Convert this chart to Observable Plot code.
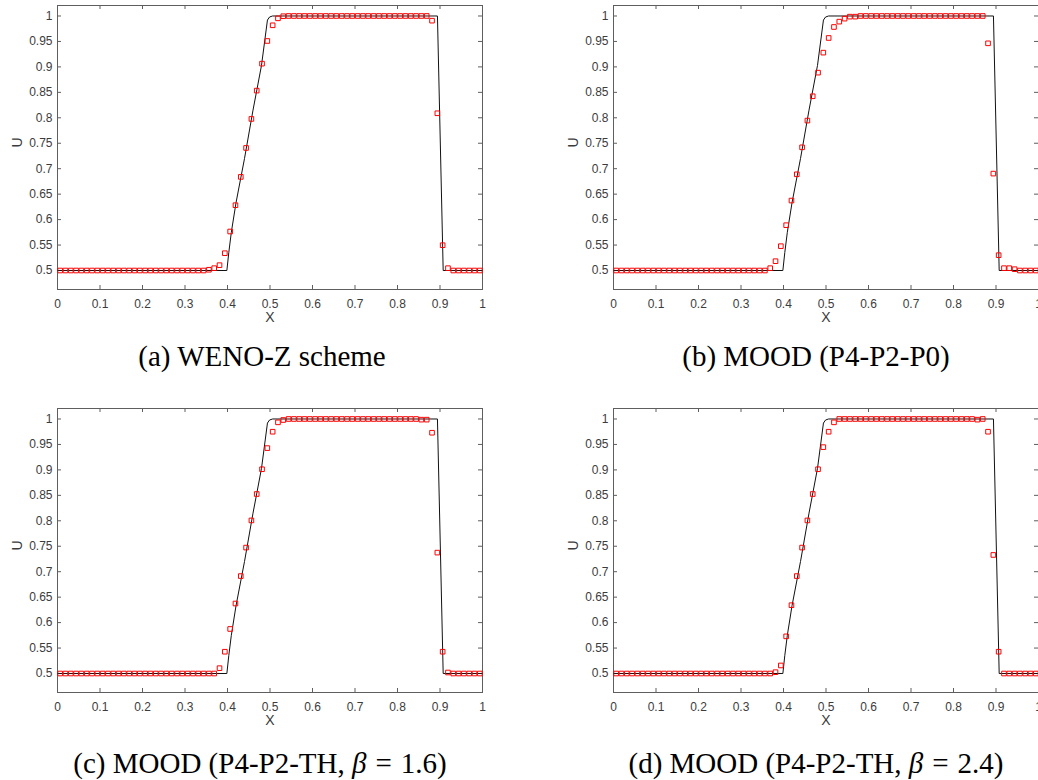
<!DOCTYPE html>
<html>
<head>
<meta charset="utf-8">
<script src="https://cdn.jsdelivr.net/npm/d3@7"></script>
<script src="https://cdn.jsdelivr.net/npm/@observablehq/plot@0.6"></script>
<style>
  html, body { margin: 0; padding: 0; background: #fff; width: 1038px; height: 780px; overflow: hidden; position: relative; }
  .panel { position: absolute; width: 520px; height: 330px; overflow: visible; }
  .panel svg { max-width: none !important; }
  .cap { position: absolute; width: 520px; text-align: center; font-family: "Liberation Serif", "Times New Roman", serif; font-size: 29px; line-height: 29px; color: #000; white-space: nowrap; }
  .cap .eq { padding: 0 0.06em; }
</style>
</head>
<body>
<div id="root"></div>
<script>
// ---------------- data ----------------
// cell-centre abscissae of the numerical solution (80 cells)
const xs = [0.00625,0.01875,0.03125,0.04375,0.05625,0.06875,0.08125,0.09375,0.10625,0.11875,
  0.13125,0.14375,0.15625,0.16875,0.18125,0.19375,0.20625,0.21875,0.23125,0.24375,
  0.25625,0.26875,0.28125,0.29375,0.30625,0.31875,0.33125,0.34375,0.35625,0.36875,
  0.38125,0.39375,0.40625,0.41875,0.43125,0.44375,0.45625,0.46875,0.48125,0.49375,
  0.50625,0.51875,0.53125,0.54375,0.55625,0.56875,0.58125,0.59375,0.60625,0.61875,
  0.63125,0.64375,0.65625,0.66875,0.68125,0.69375,0.70625,0.71875,0.73125,0.74375,
  0.75625,0.76875,0.78125,0.79375,0.80625,0.81875,0.83125,0.84375,0.85625,0.86875,
  0.88125,0.89375,0.90625,0.91875,0.93125,0.94375,0.95625,0.96875,0.98125,0.99375];

// (a) WENO-Z
const uWenoZ = [0.5,0.5,0.5,0.5,0.5,0.5,0.5,0.5,0.5,0.5,
  0.5,0.5,0.5,0.5,0.5,0.5,0.5,0.5,0.5,0.5,
  0.5,0.5,0.5,0.5,0.5,0.5,0.5,0.5,0.5015,0.5046,
  0.5105,0.534,0.5766,0.6283,0.6839,0.7408,0.7978,0.8534,0.9064,0.9509,
  0.9817,0.9954,0.9995,1,1,1,1,1,1,1,
  1,1,1,1,1,1,1,1,1,1,
  1,1,1,1,1,1,1,1,1,1,
  0.9908,0.8089,0.5497,0.5046,0.5,0.5,0.5,0.5,0.5,0.5];

// (b) MOOD P4-P2-P0
const uMoodP0 = [0.5,0.5,0.5,0.5,0.5,0.5,0.5,0.5,0.5,0.5,
  0.5,0.5,0.5,0.5,0.5,0.5,0.5,0.5,0.5,0.5,
  0.5,0.5,0.5,0.5,0.5,0.5,0.5,0.5,0.5,0.5046,
  0.5183,0.5478,0.589,0.6374,0.689,0.742,0.7945,0.8423,0.8887,0.928,
  0.9568,0.9784,0.9889,0.9948,0.9987,0.9987,1,1,1,1,
  1,1,1,1,1,1,1,1,1,1,
  1,1,1,1,1,1,1,1,1,1,
  0.9463,0.6904,0.5301,0.5046,0.5046,0.5026,0.5,0.5,0.5,0.5];

// (c) MOOD P4-P2-TH, beta = 1.6
const uMoodTh16 = [0.5,0.5,0.5,0.5,0.5,0.5,0.5,0.5,0.5,0.5,
  0.5,0.5,0.5,0.5,0.5,0.5,0.5,0.5,0.5,0.5,
  0.5,0.5,0.5,0.5,0.5,0.5,0.5,0.5,0.5,0.5,
  0.5105,0.5428,0.5875,0.6375,0.6914,0.7474,0.8007,0.8526,0.9013,0.9428,
  0.975,0.9934,0.998,1,1,1,1,1,1,1,
  1,1,1,1,1,1,1,1,1,1,
  1,1,1,1,1,1,1,1,0.9987,0.9987,
  0.973,0.7375,0.5428,0.502,0.5,0.5,0.5,0.5,0.5,0.5];

// (d) MOOD P4-P2-TH, beta = 2.4
const uMoodTh24 = [0.5,0.5,0.5,0.5,0.5,0.5,0.5,0.5,0.5,0.5,
  0.5,0.5,0.5,0.5,0.5,0.5,0.5,0.5,0.5,0.5,
  0.5,0.5,0.5,0.5,0.5,0.5,0.5,0.5,0.5,0.5,
  0.5026,0.5158,0.573,0.6342,0.6914,0.7474,0.8007,0.8526,0.9013,0.9447,
  0.975,0.9934,1,1,1,1,1,1,1,1,
  1,1,1,1,1,1,1,1,1,1,
  1,1,1,1,1,1,1,1,0.9987,1,
  0.975,0.7329,0.5428,0.5,0.5,0.5,0.5,0.5,0.5,0.5];

// exact solution (black line)
const exactX = [0, 0.3985, 0.403, 0.409, 0.42, 0.44, 0.46, 0.48, 0.494, 0.499, 0.506, 0.894, 0.9075, 1];
const exactY = [0.5, 0.5, 0.535, 0.575, 0.633, 0.72, 0.815, 0.903, 0.992, 0.998, 1, 1, 0.5, 0.5];

// axes
const xTicks = [0, 0.1, 0.2, 0.3, 0.4, 0.5, 0.6, 0.7, 0.8, 0.9, 1];
const yTicks = [0.5, 0.55, 0.6, 0.65, 0.7, 0.75, 0.8, 0.85, 0.9, 0.95, 1];
const xDomain = [0, 1];
const yDomain = [0.4627, 1.0206];
const xLabel = "X";
const yLabel = "U";

// captions
const captions = [
  "(a) WENO-Z scheme",
  "(b) MOOD (P4-P2-P0)",
  "(c) MOOD (P4-P2-TH, <i>β</i> <span class='eq'>=</span> 1.6)",
  "(d) MOOD (P4-P2-TH, <i>β</i> <span class='eq'>=</span> 2.4)"
];
const series = [uWenoZ, uMoodP0, uMoodTh16, uMoodTh24];

// ---------------- drawing ----------------
const W = 520, H = 330;
const M = {left: 57, right: 38, top: 5, bottom: 41};
const fw = W - M.left - M.right, fh = H - M.top - M.bottom;
const tickLen = 4;
const axisColor = "#5e5e5e";
const fmt = d => String(+d.toFixed(2));

function panel(ys) {
  const pts = xs.map((x, i) => ({x, y: ys[i]}));
  const exact = exactX.map((x, i) => ({x, y: exactY[i]}));
  return Plot.plot({
    width: W, height: H,
    marginLeft: M.left, marginRight: M.right, marginTop: M.top, marginBottom: M.bottom,
    x: {domain: xDomain, label: null},
    y: {domain: yDomain, label: null},
    style: {fontFamily: "'Liberation Sans', Arial, Helvetica, sans-serif", fontSize: "12px", color: "#3c3c3c", background: "transparent", overflow: "visible", maxWidth: "none"},
    marks: [
      Plot.axisX(xTicks, {tickSize: 0, tickPadding: 10, tickFormat: fmt, label: null}),
      Plot.axisY(yTicks, {tickSize: 0, tickPadding: 5, tickFormat: fmt, label: null}),
      Plot.tickX(xTicks, {insetTop: fh - tickLen, stroke: axisColor}),
      Plot.tickX(xTicks, {insetBottom: fh - tickLen, stroke: axisColor}),
      Plot.tickY(yTicks, {insetRight: fw - tickLen, stroke: axisColor}),
      Plot.tickY(yTicks, {insetLeft: fw - tickLen, stroke: axisColor}),
      Plot.frame({stroke: axisColor, strokeWidth: 1}),
      Plot.line(exact, {x: "x", y: "y", stroke: "#111", strokeWidth: 1}),
      Plot.dot(pts, {x: "x", y: "y", symbol: "square", r: 2.6, stroke: "#ff0000", fill: "none", strokeWidth: 1}),
      Plot.text([xLabel], {text: d => d, frameAnchor: "bottom", dy: 32, fontSize: 14, fill: "#3c3c3c"}),
      Plot.text([yLabel], {text: d => d, frameAnchor: "left", dx: -40, rotate: -90, fontSize: 14, fill: "#3c3c3c"})
    ]
  });
}

const root = document.getElementById("root");
const pos = [
  {left: 0, top: 0, capLeft: 2, capTop: 342},
  {left: 556, top: 0, capLeft: 556, capTop: 342},
  {left: 0, top: 403, capLeft: 0, capTop: 749},
  {left: 556, top: 403, capLeft: 556, capTop: 749}
];
series.forEach((ys, k) => {
  const wrap = document.createElement("div");
  wrap.className = "panel";
  wrap.style.left = pos[k].left + "px";
  wrap.style.top = pos[k].top + "px";
  wrap.appendChild(panel(ys));
  root.appendChild(wrap);
  const cap = document.createElement("div");
  cap.className = "cap";
  cap.style.left = pos[k].capLeft + "px";
  cap.style.top = pos[k].capTop + "px";
  cap.innerHTML = captions[k];
  root.appendChild(cap);
});
</script>
</body>
</html>
